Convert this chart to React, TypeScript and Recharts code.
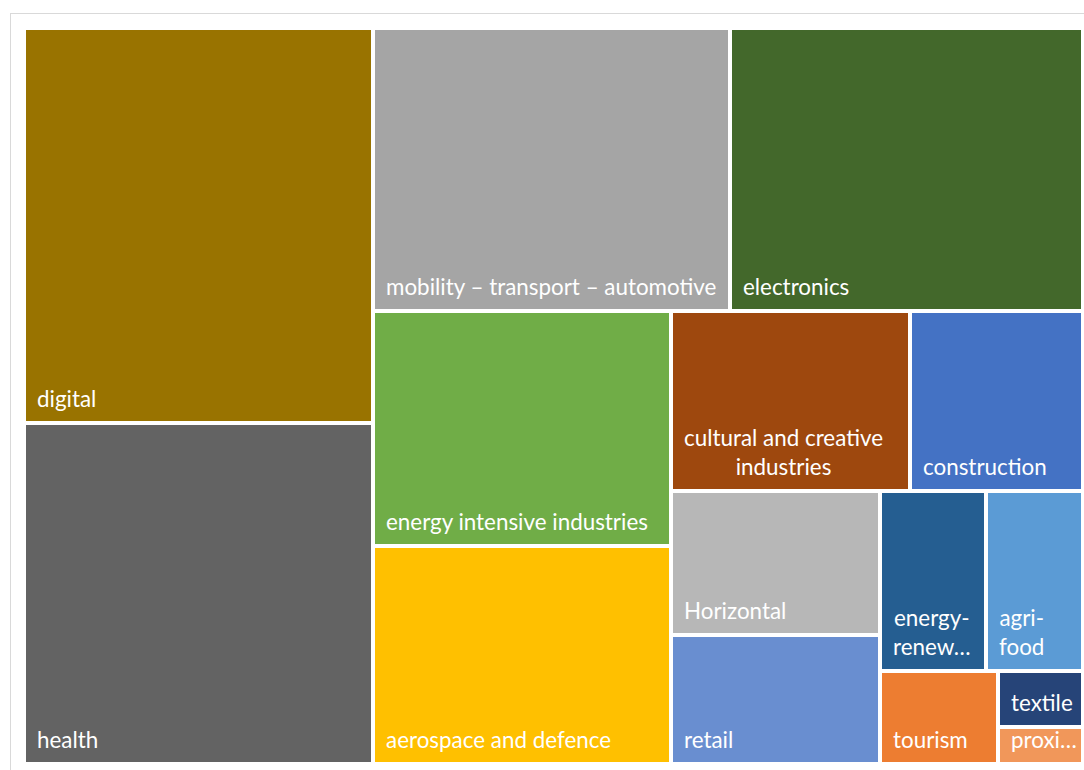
import React from "react";
import { Treemap } from "recharts";

// industrial ecosystems, in the order the treemap lays them out
const ECOSYSTEMS = [
  "digital",
  "health",
  "mobility – transport – automotive",
  "electronics",
  "energy intensive industries",
  "aerospace and defence",
  "cultural and creative industries",
  "construction",
  "Horizontal",
  "retail",
  "energy-renewables",
  "agri-food",
  "tourism",
  "textile",
  "proximity",
];

const SHARES = [138, 119, 101, 100, 70, 65, 43, 31, 30, 27, 19, 17.5, 11, 4.8, 3.3];

// how the label wraps inside each tile
const LABEL_LINES = [
  ["digital"],
  ["health"],
  ["mobility – transport – automotive"],
  ["electronics"],
  ["energy intensive industries"],
  ["aerospace and defence"],
  ["cultural and creative", "industries"],
  ["construction"],
  ["Horizontal"],
  ["retail"],
  ["energy-", "renew…"],
  ["agri-", "food"],
  ["tourism"],
  ["textile"],
  ["proxi…"],
];

const COLORS = [
  "#997300",
  "#636363",
  "#a5a5a5",
  "#43682b",
  "#70ad47",
  "#ffc000",
  "#9e480e",
  "#4472c4",
  "#b7b7b7",
  "#698ed0",
  "#255e91",
  "#5b9bd5",
  "#ed7d31",
  "#264478",
  "#f1975a",
];

const FONT_SIZE = 22.4;
const FONT_FAMILY = "Lato, 'Open Sans', sans-serif";

const data = ECOSYSTEMS.map((name, i) => ({
  name,
  size: SHARES[i],
  color: COLORS[i],
  lines: LABEL_LINES[i],
}));

let ctx: CanvasRenderingContext2D | null = null;
function textWidth(s: string) {
  if (!ctx) ctx = document.createElement("canvas").getContext("2d");
  if (!ctx) return s.length * FONT_SIZE * 0.5;
  ctx.font = `${FONT_SIZE}px Lato`;
  return ctx.measureText(s).width;
}

function Cell(props: any) {
  const { x, y, width, height, depth, color, lines } = props;
  if (depth !== 1) return <g />;
  const lineH = 28.5;
  const left = x + 13;
  const lastBase = y + height - 16.5;
  const blockW = Math.max(...lines.map((l: string) => textWidth(l)));
  const multi = lines.length > 1;
  return (
    <g>
      <rect x={x} y={y} width={width} height={height} fill={color} stroke="#fff" strokeWidth={4} />
      {lines.map((l: string, i: number) => (
        <text
          key={i}
          x={multi ? left + blockW / 2 : left}
          y={lastBase - (lines.length - 1 - i) * lineH}
          textAnchor={multi ? "middle" : "start"}
          fill="#fff"
          fontSize={FONT_SIZE}
          fontFamily={FONT_FAMILY}
        >
          {l}
        </text>
      ))}
    </g>
  );
}

export default function App() {
  return (
    <div
      style={{
        position: "fixed",
        left: 0,
        top: 0,
        width: 1084,
        height: 770,
        overflow: "hidden",
        background: "#fff",
      }}
    >
      <div
        style={{
          position: "absolute",
          left: 10,
          top: 13,
          width: 1120,
          height: 800,
          border: "1px solid #d9d9d9",
        }}
      />
      <div style={{ position: "absolute", left: 24, top: 28 }}>
        <Treemap
          width={1059}
          height={736}
          data={data}
          dataKey="size"
          nameKey="name"
          aspectRatio={1}
          isAnimationActive={false}
          content={<Cell />}
        />
      </div>
    </div>
  );
}
